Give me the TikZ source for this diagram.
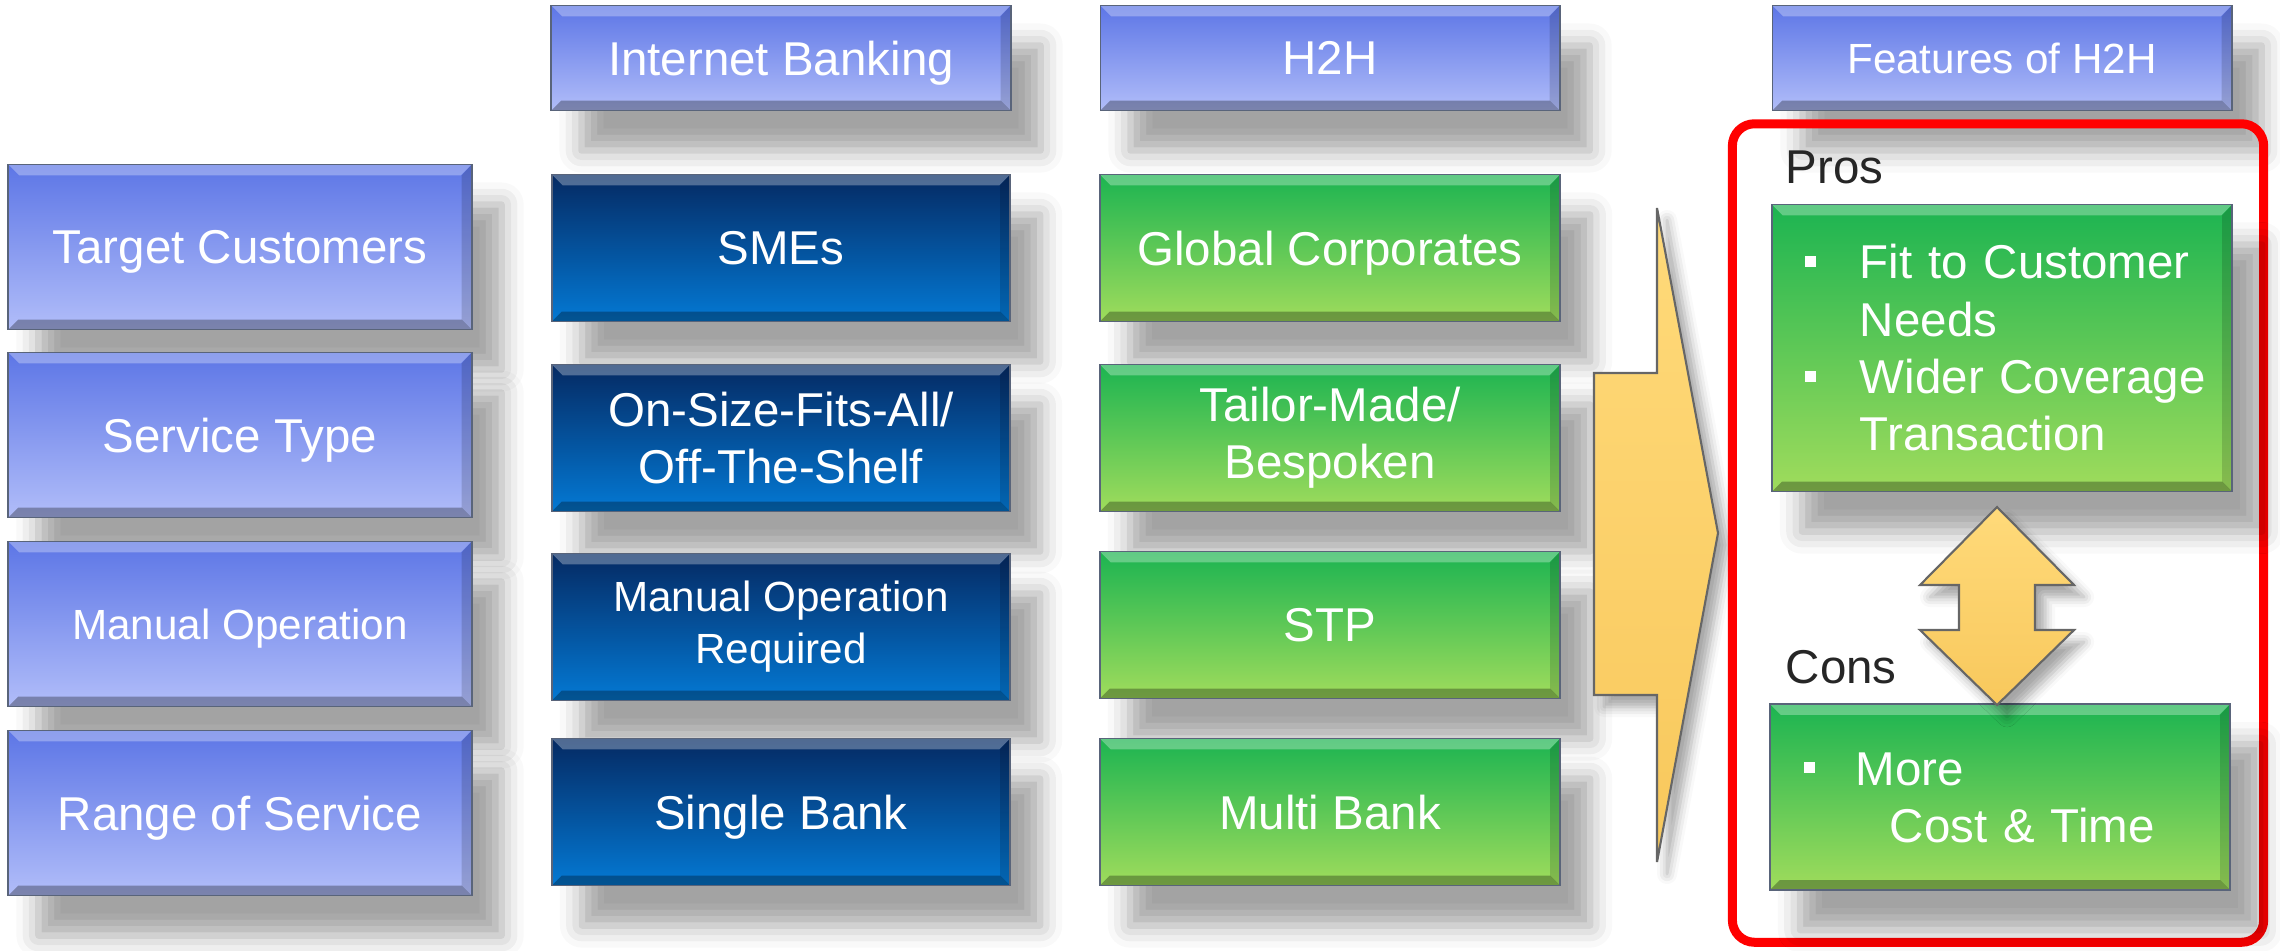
\documentclass[tikz,border=0pt]{standalone}
\usepackage{fontspec}
\setmainfont{Liberation Sans}
\usetikzlibrary{shadows.blur,positioning}

\definecolor{periTop}{HTML}{5D76E6}
\definecolor{periBot}{HTML}{B1BDF9}
\definecolor{navyTop}{HTML}{052A63}
\definecolor{navyBot}{HTML}{0479D4}
\definecolor{greenTop}{HTML}{1CB451}
\definecolor{greenBot}{HTML}{A0DC5C}
\definecolor{goldTop}{HTML}{FFDA7A}
\definecolor{goldBot}{HTML}{F8C85C}
\definecolor{edgeGray}{HTML}{59647A}
\definecolor{labelGray}{HTML}{262626}

\newcommand{\sqbullet}{\raisebox{0.12cm}{\rule{0.11cm}{0.11cm}}}

\tikzset{
	bevel/.style={path picture={
		\fill[white, opacity=0.3] (path picture bounding box.north west) -- (path picture bounding box.north east)
			-- ([xshift=-0.11cm, yshift=-0.11cm]path picture bounding box.north east)
			-- ([xshift=0.11cm, yshift=-0.11cm]path picture bounding box.north west) -- cycle;
		\fill[black, opacity=0.3] (path picture bounding box.south west) -- (path picture bounding box.south east)
			-- ([xshift=-0.1cm, yshift=0.1cm]path picture bounding box.south east)
			-- ([xshift=0.1cm, yshift=0.1cm]path picture bounding box.south west) -- cycle;
		\fill[black, opacity=0.15] (path picture bounding box.north east) -- (path picture bounding box.south east)
			-- ([xshift=-0.1cm, yshift=0.1cm]path picture bounding box.south east)
			-- ([xshift=-0.1cm, yshift=-0.11cm]path picture bounding box.north east) -- cycle;
	}},
	card/.style={draw=edgeGray, line width=0.5pt, text=white, align=center, inner sep=0pt,
		font=\fontsize{13.5}{16.3}\selectfont, text depth=0pt,
		blur shadow={shadow xshift=0.3cm, shadow yshift=-0.4cm, shadow blur radius=0.22cm, shadow opacity=36},
		bevel},
	twoline/.style={text depth={}},
	peri/.style={card, top color=periTop, bottom color=periBot},
	navy/.style={card, top color=navyTop, bottom color=navyBot},
	leaf/.style={card, top color=greenTop, bottom color=greenBot},
	sidebox/.style={peri, minimum width=4.63cm, minimum height=1.65cm},
	headbox/.style={peri, minimum width=4.59cm, minimum height=1.05cm},
	ibbox/.style={navy, minimum width=4.58cm, minimum height=1.47cm},
	h2hbox/.style={leaf, minimum width=4.6cm, minimum height=1.47cm},
	smalltext/.style={font=\fontsize{12}{14.8}\selectfont},
	gold/.style={draw=gray!80!black, line width=0.6pt, top color=goldTop, bottom color=goldBot,
		blur shadow={shadow xshift=0.1cm, shadow yshift=-0.12cm, shadow blur radius=0.1cm, shadow opacity=35}},
	pclabel/.style={anchor=base west, inner sep=0pt, text=labelGray, font=\fontsize{13.5}{16.3}\selectfont}
}

\begin{document}
\begin{tikzpicture}[x=0.01cm, y=-0.01cm]
	\useasboundingbox (0,0) rectangle (2280,950);

	% column heads
	\node[headbox] (ibHead) at (781,58) {Internet Banking};
	\node[headbox] (h2hHead) at (1330,58) {H2H};
	\node[headbox, smalltext] (featHead) at (2002,58) {Features of H2H};

	% row labels
	\node[sidebox] (target) at (240,247) {Target Customers};
	\node[sidebox] (service) at (240,435) {Service Type};
	\node[sidebox, smalltext] (manual) at (240,624) {Manual Operation};
	\node[sidebox] (range) at (240,813) {Range of Service};

	% internet banking
	\node[ibbox] (ibTarget) at (781,248) {SMEs};
	\node[ibbox, twoline] (ibService) at (781,438) {On-Size-Fits-All/\\Off-The-Shelf};
	\node[ibbox, smalltext, twoline] (ibManual) at (781,627) {Manual Operation\\Required};
	\node[ibbox] (ibRange) at (781,812) {Single Bank};

	% h2h
	\node[h2hbox] (h2hTarget) at (1330,248) {Global Corporates};
	\node[h2hbox, twoline] (h2hService) at (1330,438) {Tailor-Made/\\Bespoken};
	\node[h2hbox] (h2hManual) at (1330,625) {STP};
	\node[h2hbox] (h2hRange) at (1330,812) {Multi Bank};

	% big arrow
	\draw[gold] (1594,373) -- (1657,373) -- (1657,208) -- (1718,533) -- (1657,862)
		-- (1657,695) -- (1594,695) -- cycle;

	% features frame
	\node[draw=red, line width=0.09cm, rounded corners=0.22cm, minimum width=5.31cm,
		minimum height=8.18cm, inner sep=0pt] (frame) at (1998,533) {};

	\node[pclabel] (prosLabel) at (1785,183) {Pros};
	\node[leaf, minimum width=4.6cm, minimum height=2.87cm, align=left, inner xsep=0.33cm,
		text width=3.94cm, text height=0.34cm, text depth=1.72cm] (pros) at (2002,348)
		{\begin{tabular}[t]{@{}l@{\hspace{0.44cm}}l@{}}
			\sqbullet & Fit to Customer\\
			& Needs\\
			\sqbullet & Wider Coverage\\
			& Transaction
		\end{tabular}};

	\node[pclabel] (consLabel) at (1785,683) {Cons};
	\node[leaf, minimum width=4.6cm, minimum height=1.86cm, align=left, inner xsep=0.34cm,
		text width=3.92cm, text height=0.34cm, text depth=0.58cm] (cons) at (2000,797)
		{\begin{tabular}[t]{@{}l@{\hspace{0.41cm}}l@{}}
			\sqbullet & More\\
			& \hspace{0.34cm}Cost \& Time
		\end{tabular}};

	% pros <-> cons
	\coordinate (dblTop) at (1997,507);
	\coordinate (dblBot) at (1997,705);
	\draw[gold] (dblTop) -- ++(77,78) -- ++(-39,0) -- ++(0,45) -- ++(39,0) -- (dblBot)
		-- ++(-77,-75) -- ++(39,0) -- ++(0,-45) -- ++(-39,0) -- cycle;
\end{tikzpicture}
\end{document}
